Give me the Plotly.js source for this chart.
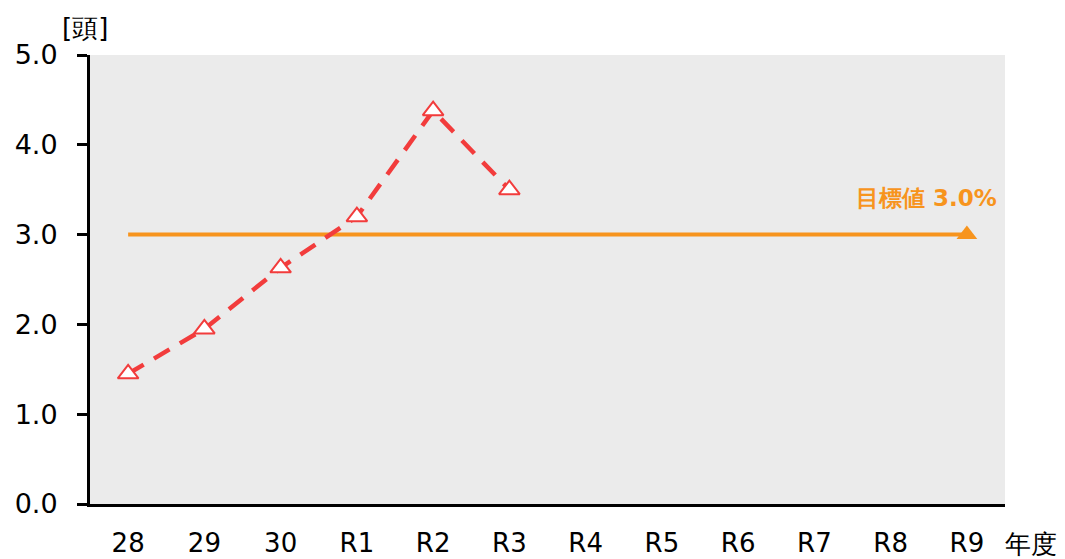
<!DOCTYPE html>
<html><head><meta charset="utf-8">
<script src="https://cdn.plot.ly/plotly-3.0.1.min.js"></script>
<style>html,body{margin:0;padding:0;background:#fff}</style>
</head><body>
<div id="chart" style="width:1065px;height:559px"></div>
<script>
const categories = ["28","29","30","R1","R2","R3","R4","R5","R6","R7","R8","R9"];
const actualYears = ["28","29","30","R1","R2","R3"];
const actualValues = [1.45, 1.95, 2.63, 3.2, 4.38, 3.5];
const targetYears = ["28","R9"];
const targetValues = [3.0, 3.0];
const yTicks = [0,1,2,3,4,5];
const yTickLabels = ["0.0","1.0","2.0","3.0","4.0","5.0"];

const FONT = "DejaVu Sans, Verdana, sans-serif";
const ORANGE = "#f7941d";
const RED = "#f23c3c";

const traces = [
  {x: targetYears, y: targetValues, type:"scatter", mode:"lines",
   line:{color:ORANGE, width:4}, hoverinfo:"skip", showlegend:false},
  {x: [targetYears[1]], y: [targetValues[1]], type:"scatter", mode:"markers",
   marker:{symbol:"triangle-up", size:18, color:ORANGE}, showlegend:false},
  {x: actualYears, y: actualValues, type:"scatter", mode:"lines+markers",
   line:{color:RED, width:4.5, dash:"18px,12px"},
   marker:{symbol:"triangle-up", size:18, color:"#ffffff", line:{color:RED, width:2}},
   showlegend:false}
];

const layout = {
  width:1065, height:559,
  margin:{l:90, r:60, t:55, b:55},
  paper_bgcolor:"#ffffff", plot_bgcolor:"#ebebeb",
  font:{family:FONT, size:26, color:"#000"},
  xaxis:{type:"category", categoryorder:"array", categoryarray:categories,
    range:[-0.5, 11.5], showgrid:false, zeroline:false,
    showline:true, linecolor:"#000", linewidth:3, ticks:"",
    ticklabelstandoff:14, tickfont:{family:FONT, size:26}},
  yaxis:{range:[0,5], tickvals:yTicks, ticktext:yTickLabels,
    showgrid:false, zeroline:false, showline:true, linecolor:"#000", linewidth:3,
    ticks:"outside", ticklen:10, tickwidth:3, tickcolor:"#000",
    ticklabelstandoff:14, tickfont:{family:FONT, size:27}},
  annotations:[
    {text:"[頭]", xref:"paper", yref:"paper", x:0, y:1, xshift:-5, yshift:27,
     showarrow:false, font:{family:FONT, size:26}, xanchor:"center", yanchor:"middle"},
    {text:"年度", xref:"paper", yref:"paper", x:1, y:0, xshift:26, yshift:-40,
     showarrow:false, font:{family:FONT, size:26}, xanchor:"center", yanchor:"middle"},
    {text:"<b>目標値 3.0%</b>", xref:"paper", yref:"y", x:1, y:3, xshift:-6, yshift:37,
     showarrow:false, font:{family:FONT, size:23, color:ORANGE}, xanchor:"right", yanchor:"middle"}
  ]
};
Plotly.newPlot("chart", traces, layout, {displayModeBar:false, staticPlot:true});
</script>
</body></html>
